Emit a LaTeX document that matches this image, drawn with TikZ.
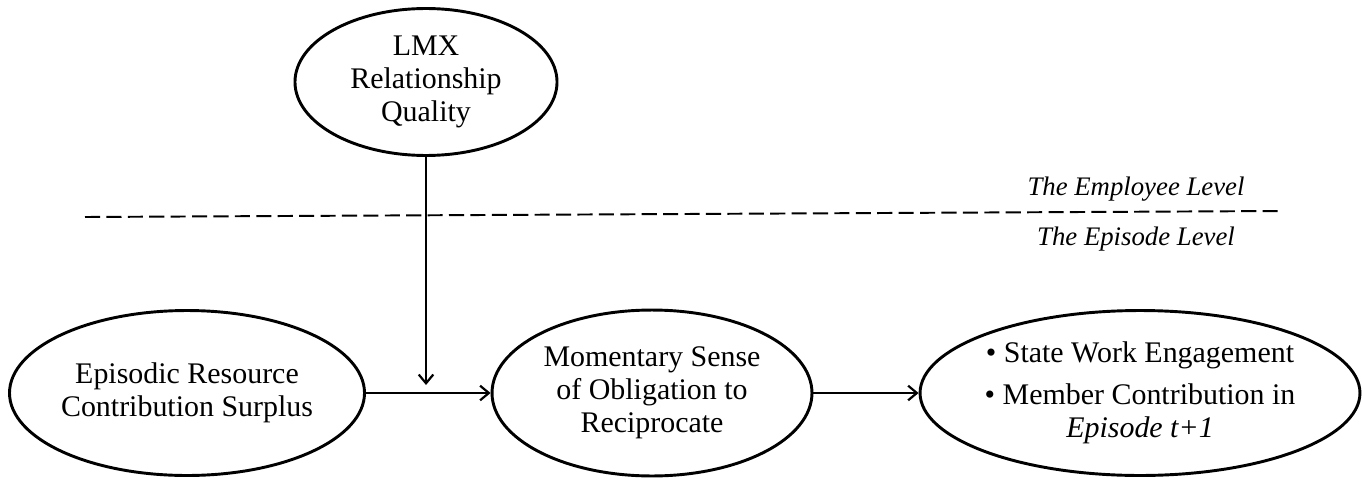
\documentclass[tikz,border=0pt]{standalone}
\usepackage{fontspec}
\setmainfont{Liberation Serif}
\usepackage{tikz}
\usetikzlibrary{arrows.meta,shapes.geometric,positioning}

\begin{document}
\begin{tikzpicture}[x=0.411pt,y=-0.411pt,>={Straight Barb[length=3.6pt,width=6pt,line width=0.9pt]},
  font=\fontsize{12.3}{13.6}\selectfont,
  oval/.style={draw,ellipse,line width=1.2pt,inner xsep=-12pt,inner ysep=0pt,align=center},
  link/.style={->,line width=1pt},
  lvl/.style={font=\fontsize{11}{13}\selectfont\itshape,anchor=base}]
  \useasboundingbox (0,0) rectangle (1362,479);
  % employee level
  \node[oval,minimum width=107.7pt,minimum height=60.4pt] (lmx) at (426,82)
       {LMX\\Relationship\\Quality};
  % level divider
  \coordinate (divL) at (85,217);
  \coordinate (divR) at (1283,211);
  \draw[dashed,line width=0.8pt,dash pattern=on 6.2pt off 2.6pt] (divL) -- (divR);
  \node[lvl] (emplvl) at (1136,195) {The Employee Level};
  \node[lvl] (epilvl) at (1136,245) {The Episode Level};
  % episode level chain
  \node[oval,minimum width=145.9pt,minimum height=67.8pt] (surplus) at (187,393)
       {Episodic Resource\\Contribution Surplus};
  \node[oval,minimum width=131.5pt,minimum height=68.2pt] (oblig) at (652,393)
       {Momentary Sense\\of Obligation to\\Reciprocate};
  \node[oval,minimum width=180.8pt,minimum height=67.8pt] (outcome) at (1140,393)
       {\textbullet\ State Work Engagement\\[3.7pt]
        \textbullet\ Member Contribution in\\\textit{Episode t+1}};
  \draw[link] (surplus) -- (oblig);
  \draw[link] (oblig) -- (outcome);
  % moderation
  \coordinate (mod) at (426,385);
  \draw[link] (lmx) -- (mod);
\end{tikzpicture}
\end{document}
